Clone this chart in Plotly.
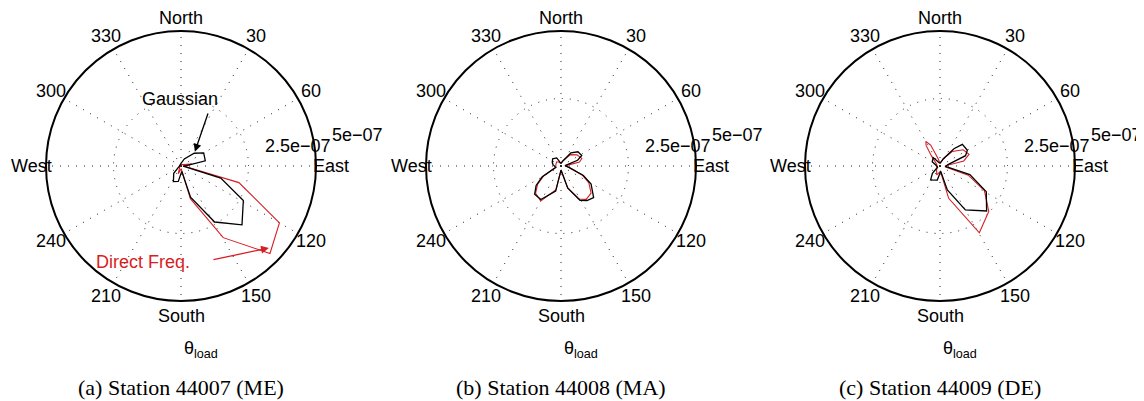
import plotly.graph_objects as go
import math

UNIT = 1e-07  # radial values below are in units of 1e-07

ANGLE_TICKS = [0, 30, 60, 90, 120, 150, 180, 210, 240, 270, 300, 330]
ANGLE_LABELS = ["North", "30", "60", "East", "120", "150", "South", "210", "240", "West", "300", "330"]
RADIAL_TICKS = [2.5e-07, 5e-07]
RADIAL_LABELS = ["2.5e\u221207", "5e\u221207"]
R_MAX = 5e-07

CAPTIONS = ["(a) Station 44007 (ME)", "(b) Station 44008 (MA)", "(c) Station 44009 (DE)"]

# Panel (a) Station 44007 (ME)
A_GAUSS_THETA = [0, 25, 46, 60, 78, 86, 95, 107, 119, 134, 149, 163, 172, 190, 206, 225, 245, 270, 300, 330]
A_GAUSS_R = [0.1, 0.29, 0.68, 0.97, 0.92, 0.2, 0.08, 1.54, 2.64, 3.14, 2.42, 1.21, 0.2, 0.58, 0.64, 0.38, 0.1, 0.05, 0.05, 0.05]
A_FREQ_THETA = [0, 60, 80, 92, 106, 120, 134.5, 149.5, 164, 176, 200, 220, 270, 330]
A_FREQ_R = [0.05, 0.1, 0.4, 0.1, 2.23, 4.21, 4.62, 3.08, 1.26, 0.1, 0.3, 0.08, 0.05, 0.05]

# Panel (b) Station 44008 (MA)
B_GAUSS_THETA = [0, 20, 37, 50, 63, 71, 85, 100, 113, 121, 134, 143, 151, 163, 180, 192, 211, 223, 232, 240, 255, 280, 292, 311, 332, 345]
B_GAUSS_R = [0.1, 0.2, 0.61, 0.82, 0.86, 0.65, 0.15, 0.3, 0.9, 1.3, 1.68, 1.6, 1.45, 0.86, 0.15, 0.95, 1.45, 1.43, 1.17, 0.8, 0.2, 0.3, 0.35, 0.41, 0.34, 0.15]
B_FREQ_THETA = [0, 20, 40, 55, 70, 78, 88, 100, 113, 121, 132, 143, 151, 163, 180, 192, 210, 223, 232, 240, 255, 290, 315, 335, 350]
B_FREQ_R = [0.1, 0.2, 0.55, 0.72, 0.82, 0.7, 0.15, 0.3, 0.85, 1.2, 1.5, 1.55, 1.4, 0.85, 0.15, 0.9, 1.5, 1.38, 1.1, 0.75, 0.2, 0.2, 0.22, 0.15, 0.1]

# Panel (c) Station 44009 (DE)
C_GAUSS_THETA = [0, 25, 39, 46, 60, 68, 80, 95, 106, 119, 134, 150, 163, 172, 191, 214, 226, 245, 280, 299, 321, 340]
C_GAUSS_R = [0.1, 0.3, 0.82, 1.15, 1.17, 1.02, 0.3, 0.2, 1.15, 1.96, 2.4, 1.88, 0.93, 0.2, 0.53, 0.62, 0.39, 0.1, 0.15, 0.33, 0.4, 0.15]
C_FREQ_THETA = [0, 25, 40, 55, 68, 78, 88, 100, 108, 119, 133, 149.5, 165, 175, 200, 220, 260, 300, 320, 326, 330, 336, 345]
C_FREQ_R = [0.1, 0.3, 0.7, 1.05, 1.16, 0.9, 0.2, 0.2, 1.1, 1.88, 2.47, 2.87, 1.24, 0.2, 0.35, 0.2, 0.1, 0.15, 0.5, 0.92, 1.05, 0.85, 0.3]

PANELS = [
    (A_GAUSS_THETA, A_GAUSS_R, A_FREQ_THETA, A_FREQ_R),
    (B_GAUSS_THETA, B_GAUSS_R, B_FREQ_THETA, B_FREQ_R),
    (C_GAUSS_THETA, C_GAUSS_R, C_FREQ_THETA, C_FREQ_R),
]

# ---- layout geometry (page pixels; the page body adds an 8px margin) ----
W, H = 1144, 401
PAGE_OFFSET = 8
CENTERS_X = [181, 561, 940]
CENTER_Y = 166
RADIUS = 135
LABEL_RADIUS_FRAC = 1.11  # MATLAB-style angular labels, centred outside the rim
LABEL_MIN_Y = 18.5        # keep the top label fully inside the drawing

BLACK = "#000000"
RED = "rgb(215,30,35)"
SANS = "Liberation Sans, Arial, Helvetica, sans-serif"
SERIF = "Liberation Serif, Times New Roman, serif"
GRID = "#222222"
GRID_DASH = "1px,7px"


def px_x(x):
    return (x - PAGE_OFFSET) / W


def px_y(y):
    return (H - (y - PAGE_OFFSET)) / H


def polar_to_px(cx, theta_deg, r):
    rr = r / R_MAX * RADIUS
    t = math.radians(theta_deg)
    return cx + rr * math.sin(t), CENTER_Y - rr * math.cos(t)


def closed(seq):
    return list(seq) + [seq[0]]


fig = go.Figure()
annotations = []
for i, (gt, gr, ft, fr) in enumerate(PANELS):
    sub = "polar" if i == 0 else f"polar{i + 1}"
    fig.add_trace(go.Scatterpolar(
        theta=closed(ft), r=[v * UNIT for v in closed(fr)], mode="lines",
        line=dict(color=RED, width=1.1), subplot=sub, name="Direct Freq.",
        showlegend=False))
    fig.add_trace(go.Scatterpolar(
        theta=closed(gt), r=[v * UNIT for v in closed(gr)], mode="lines",
        line=dict(color=BLACK, width=1.3), subplot=sub, name="Gaussian",
        showlegend=False))

    cx = CENTERS_X[i]
    polar = dict(
        domain=dict(x=[px_x(cx - RADIUS), px_x(cx + RADIUS)],
                    y=[px_y(CENTER_Y + RADIUS), px_y(CENTER_Y - RADIUS)]),
        bgcolor="white",
        angularaxis=dict(
            rotation=90, direction="clockwise",
            tickmode="array", tickvals=ANGLE_TICKS, ticktext=ANGLE_LABELS,
            showticklabels=False,
            ticks="", showline=True, linecolor="black", linewidth=2,
            showgrid=True, gridcolor=GRID, gridwidth=1.2, griddash=GRID_DASH,
        ),
        radialaxis=dict(
            range=[0, R_MAX], tickmode="array", tickvals=RADIAL_TICKS,
            showticklabels=False, ticks="", showline=False,
            showgrid=True, gridcolor=GRID, gridwidth=1.2, griddash=GRID_DASH,
        ),
    )
    fig.update_layout(**{sub: polar})

    # angular labels centred at 1.11 * rmax (as MATLAB's polar does)
    for ang, lab in zip(ANGLE_TICKS, ANGLE_LABELS):
        lx, ly = polar_to_px(cx, ang, LABEL_RADIUS_FRAC * R_MAX)
        ly = max(ly, LABEL_MIN_Y)
        annotations.append(dict(x=px_x(lx), y=px_y(ly), xref="paper", yref="paper",
                                text=lab, showarrow=False, xanchor="center", yanchor="middle",
                                font=dict(family=SANS, size=18, color="black")))

    # radial tick labels (MATLAB style placement)
    annotations.append(dict(x=px_x(cx + 82), y=px_y(145.5), xref="paper", yref="paper",
                            text=RADIAL_LABELS[0], showarrow=False, xanchor="left", yanchor="middle",
                            font=dict(family=SANS, size=18, color="black")))
    annotations.append(dict(x=px_x(cx + 149), y=px_y(135), xref="paper", yref="paper",
                            text=RADIAL_LABELS[1], showarrow=False, xanchor="left", yanchor="middle",
                            font=dict(family=SANS, size=18, color="black")))
    # axis title
    annotations.append(dict(x=px_x(cx + 1), y=px_y(349), xref="paper", yref="paper",
                            text="\u03b8<sub>load</sub>", showarrow=False, xanchor="left", yanchor="middle",
                            font=dict(family=SANS, size=18, color="black")))
    # caption
    annotations.append(dict(x=px_x(cx), y=px_y(387), xref="paper", yref="paper",
                            text=CAPTIONS[i], showarrow=False, xanchor="center", yanchor="middle",
                            font=dict(family=SERIF, size=22, color="black")))

# Callouts in panel (a)
gx, gy = polar_to_px(CENTERS_X[0], 44, 0.74 * UNIT)
annotations.append(dict(x=px_x(gx), y=px_y(gy), xref="paper", yref="paper", text="",
                        showarrow=True, ax=208.5 - gx, ay=112 - gy, axref="pixel", ayref="pixel",
                        arrowhead=2, arrowsize=1.2, arrowwidth=1.3, arrowcolor="black"))
annotations.append(dict(x=px_x(180), y=px_y(99), xref="paper", yref="paper", text="Gaussian",
                        showarrow=False, xanchor="center", yanchor="middle",
                        font=dict(family=SANS, size=18, color="black")))
fx, fy = polar_to_px(CENTERS_X[0], 133, 4.45 * UNIT)
annotations.append(dict(x=px_x(fx), y=px_y(fy), xref="paper", yref="paper", text="",
                        showarrow=True, ax=212 - fx, ay=260 - fy, axref="pixel", ayref="pixel",
                        arrowhead=2, arrowsize=1.2, arrowwidth=1.3, arrowcolor=RED))
annotations.append(dict(x=px_x(143), y=px_y(262), xref="paper", yref="paper", text="Direct Freq.",
                        showarrow=False, xanchor="center", yanchor="middle",
                        font=dict(family=SANS, size=18, color=RED)))

fig.update_layout(
    width=W, height=H,
    margin=dict(l=0, r=0, t=0, b=0),
    paper_bgcolor="white", plot_bgcolor="white",
    showlegend=False,
    annotations=annotations,
)

fig.write_html("out.html")
